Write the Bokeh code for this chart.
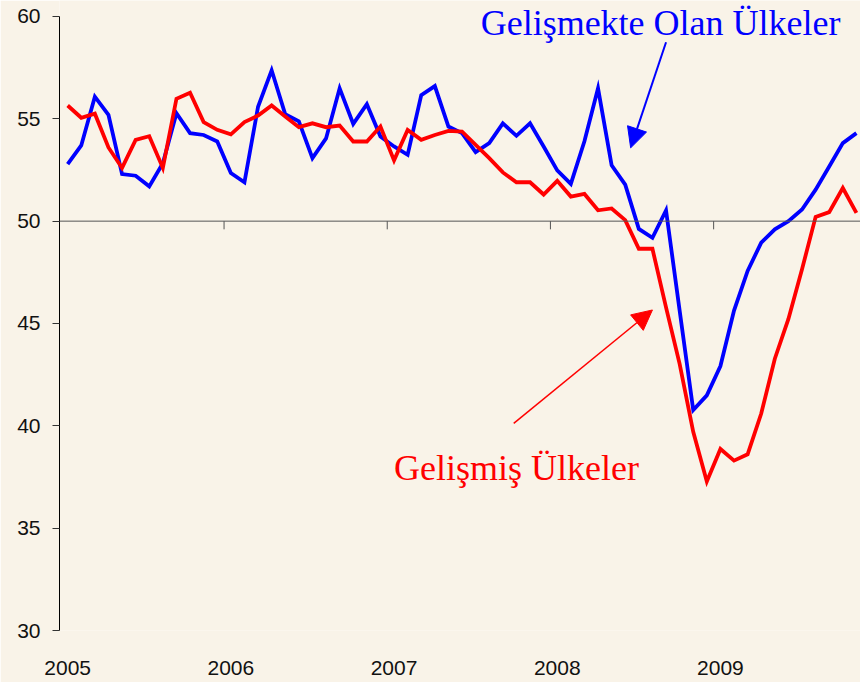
from bokeh.plotting import figure
from bokeh.models import Range1d, FixedTicker, Span, Arrow, NormalHead
from bokeh.core.properties import value
from bokeh.embed import file_html
from bokeh.resources import INLINE

# Monthly PMI-style index, Jan 2005 .. Nov 2009
months = list(range(59))
year_labels = ["2005", "2006", "2007", "2008", "2009"]
year_starts = [0, 12, 24, 36, 48]
y_ticks = [30, 35, 40, 45, 50, 55, 60]

developed = [55.65, 55.05, 55.25, 53.6, 52.6, 53.97, 54.15, 52.6, 55.98, 56.27,
             54.84, 54.46, 54.24, 54.84, 55.16, 55.65, 55.11, 54.59, 54.78, 54.59,
             54.67, 53.89, 53.89, 54.62, 52.97, 54.46, 53.97, 54.21, 54.41, 54.38,
             53.73, 53.08, 52.38, 51.90, 51.90, 51.30, 51.97, 51.20, 51.33, 50.53,
             50.62, 50.05, 48.65, 48.65, 45.79, 43.03, 39.71, 37.28, 38.87, 38.30,
             38.61, 40.60, 43.28, 45.22, 47.65, 50.21, 50.44, 51.62, 50.40]

developing = [52.79, 53.70, 56.08, 55.19, 52.30, 52.22, 51.70, 52.83, 55.27, 54.30,
              54.21, 53.89, 52.35, 51.90, 55.59, 57.37, 55.22, 54.88, 53.08, 54.04,
              56.49, 54.75, 55.71, 54.13, 53.65, 53.24, 56.16, 56.60, 54.62, 54.30,
              53.37, 53.81, 54.78, 54.17, 54.78, 53.65, 52.48, 51.82, 53.90, 56.49,
              52.73, 51.78, 49.62, 49.19, 50.53, 45.63, 40.77, 41.49, 42.92, 45.63,
              47.57, 48.95, 49.60, 50.00, 50.57, 51.54, 52.67, 53.81, 54.30]

developing_label = "Gelişmekte Olan Ülkeler"
developed_label = "Gelişmiş Ülkeler"
baseline = 50
y_min, y_max = 30, 60

BG = "#F9F3E8"
BLUE = "#0000FF"
RED = "#FF0000"

# frame reaches the top edge so the upper annotation is not clipped;
# the axis line itself stops at 60
p = figure(width=860, height=682, output_backend="svg", toolbar_location=None,
           x_range=Range1d(-0.6, 58.3), y_range=Range1d(y_min, y_max + 0.78),
           min_border_left=59, min_border_right=0, min_border_top=0,
           min_border_bottom=52)
p.background_fill_color = BG
p.border_fill_color = BG
p.outline_line_color = None
p.grid.visible = False

# y axis
yax = p.yaxis[0]
yax.bounds = (y_min, y_max)
yax.ticker = FixedTicker(ticks=y_ticks)
yax.major_tick_in = 0
yax.major_tick_out = 7
yax.minor_tick_line_color = None
yax.axis_line_color = "black"
yax.major_tick_line_color = "#333333"
yax.major_label_standoff = 12
yax.major_label_text_font = "Liberation Sans"
yax.major_label_text_font_size = "21px"
yax.major_label_text_color = "#111111"

# x axis (labels only)
xax = p.xaxis[0]
xax.ticker = FixedTicker(ticks=year_starts)
xax.major_label_overrides = {s: l for s, l in zip(year_starts, year_labels)}
xax.axis_line_color = None
xax.major_tick_line_color = None
xax.minor_tick_line_color = None
xax.major_label_standoff = 24
xax.major_label_text_font = "Liberation Sans"
xax.major_label_text_font_size = "21px"
xax.major_label_text_color = "#111111"

# baseline at 50 with year-boundary ticks
p.add_layout(Span(location=baseline, dimension="width", line_color="#555555", line_width=1))
bounds = [s - 0.5 for s in year_starts[1:]]
p.segment(x0=bounds, y0=[baseline] * len(bounds), x1=bounds,
          y1=[baseline - 0.4] * len(bounds), line_color="#555555", line_width=1)

# series
p.line(months, developing, line_color=BLUE, line_width=3.8, line_join="miter")
p.line(months, developed, line_color=RED, line_width=3.8, line_join="miter")

# annotations
p.text(x=[43.6], y=[59.7], text=[developing_label], text_color=BLUE,
       text_font=value("Liberation Serif"), text_font_size="36px",
       text_align="center", text_baseline="alphabetic")
p.text(x=[33.0], y=[37.95], text=[developed_label], text_color=RED,
       text_font=value("Liberation Serif"), text_font_size="36px",
       text_align="center", text_baseline="alphabetic")

p.add_layout(Arrow(end=NormalHead(size=20, fill_color=BLUE, line_color=BLUE),
                   x_start=44.0, y_start=58.74, x_end=41.4, y_end=53.58,
                   line_color=BLUE, line_width=2))
p.add_layout(Arrow(end=NormalHead(size=20, fill_color=RED, line_color=RED),
                   x_start=32.8, y_start=40.12, x_end=43.0, y_end=45.66,
                   line_color=RED, line_width=1.5))

open("out.html", "w").write(file_html(p, INLINE))
